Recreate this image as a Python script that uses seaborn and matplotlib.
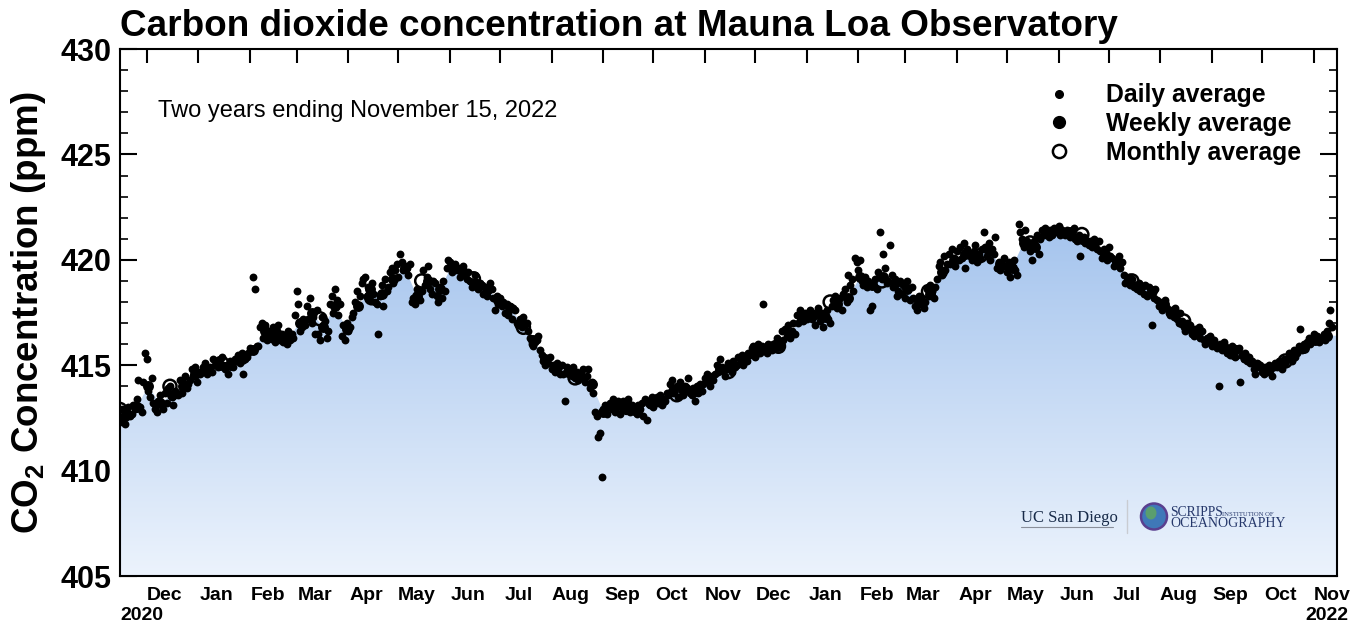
import numpy as np
import pandas as pd
import matplotlib
matplotlib.use("Agg")
import matplotlib.pyplot as plt
import matplotlib.dates as mdates
from matplotlib.ticker import MultipleLocator, NullFormatter
from matplotlib.lines import Line2D
from matplotlib.patches import Ellipse
import seaborn as sns

# daily averages (ppm) from Nov 15, 2020, one line per week
daily_ppm = [
    412.3, 412.9, 412.4, 412.2, 412.8, 413.0, 412.6,
    412.7, 413.1, 412.9, 413.4, 414.3, 413.0, 412.8,
    414.2, 415.6, 415.3, 413.8, 413.5, 414.4, 413.2,
    412.9, 412.8, 413.3, 413.6, 413.1, 412.9, 413.7,
    413.2, 413.9, 414.0, 413.5, 413.1, 413.8, 413.7,
    413.6, 414.3, 413.7, 414.2, 414.5, 413.9, 414.1,
    414.3, 414.8, 414.5, 414.9, 414.2, 414.7, 414.6,
    414.7, 414.9, 415.1, 414.6, 414.8, 414.9, 414.7,
    415.3, 415.0, 415.2, 414.9, 415.1, 415.4, 415.0,
    414.8, 415.0, 414.6, 415.2, 415.1, 414.9, 415.3,
    415.2, 415.5, 415.1, 415.6, 414.6, 415.3, 415.4,
    415.6, 415.8, 415.7, 419.2, 418.6, 415.9, 415.9,
    416.8, 417.0, 416.3, 416.9, 416.2, 416.5, 416.6,
    416.3, 416.8, 416.1, 416.6, 416.9, 416.2, 416.5,
    416.1, 416.4, 416.0, 416.6, 416.2, 416.5, 416.3,
    417.4, 418.5, 417.9, 416.6, 416.8, 417.2, 416.9,
    417.8, 417.2, 418.2, 417.0, 417.3, 416.5, 417.6,
    416.5, 416.2, 417.3, 416.9, 417.1, 416.3, 416.6,
    417.9, 418.3, 417.5, 418.6, 418.1, 417.4, 417.9,
    416.4, 416.9, 416.2, 417.0, 416.6, 416.8, 417.3,
    417.5, 418.0, 418.5, 417.8, 418.3, 418.9, 419.1,
    419.2, 418.3, 418.7, 418.1, 418.9, 418.4, 418.0,
    417.9, 416.5, 418.3, 418.8, 417.8, 419.1, 418.5,
    418.7, 419.4, 419.6, 418.9, 419.5, 419.8, 419.2,
    420.3, 419.9, 419.5, 419.7, 419.6, 419.3, 419.8,
    418.0, 418.2, 417.9, 418.6, 418.4, 418.1, 418.5,
    419.5, 418.8, 419.2, 419.7, 418.6, 418.4, 419.0,
    418.9, 418.3, 418.0, 418.7, 418.2, 419.0, 418.5,
    419.6, 420.0, 419.9, 419.4, 419.7, 419.8, 419.5,
    419.6, 419.2, 419.5, 419.7, 419.3, 419.1, 419.4,
    419.0, 418.7, 418.9, 419.3, 418.8, 418.6, 418.9,
    418.8, 418.4, 418.7, 418.3, 418.5, 418.9, 418.6,
    418.2, 417.6, 418.3, 417.9, 418.2, 417.8, 418.0,
    417.5, 417.9, 417.4, 417.8, 417.2, 417.7, 417.6,
    417.0, 416.9, 417.2, 416.8, 417.3, 416.9, 417.0,
    416.6, 416.3, 416.0, 415.9, 416.1, 416.2, 416.4,
    415.7, 415.5, 415.2, 415.0, 415.3, 415.1, 415.4,
    414.8, 415.0, 414.7, 415.1, 414.9, 414.6, 415.0,
    414.6, 413.3, 414.9, 414.8, 414.7, 414.5, 414.9,
    414.4, 414.7, 414.3, 414.6, 414.5, 414.8, 414.2,
    414.5, 414.8, 413.9, 414.2, 413.7, 412.8, 412.6,
    411.6, 411.8, 409.7, 412.9, 413.1, 412.7, 413.0,
    413.2, 412.9, 413.4, 412.8, 413.1, 413.3, 412.7,
    413.0, 413.3, 412.9, 413.2, 413.4, 412.8, 413.1,
    413.0, 412.8, 412.7, 413.1, 412.9, 413.2, 412.6,
    413.4, 412.4, 413.3, 413.1, 413.5, 413.0, 413.2,
    413.5, 413.2, 413.6, 413.1, 413.4, 413.3, 413.7,
    413.6, 414.1, 414.3, 413.7, 413.9, 414.0, 413.5,
    414.2, 413.8, 413.6, 414.0, 413.9, 414.4, 413.7,
    413.6, 413.9, 413.3, 414.0, 413.7, 414.1, 413.8,
    414.1, 414.4, 414.6, 414.2, 414.0, 414.5, 414.3,
    414.6, 415.0, 414.7, 415.3, 414.9, 414.8, 414.5,
    414.8, 415.1, 415.0, 414.7, 415.2, 414.9, 415.0,
    415.4, 415.1, 415.5, 415.0, 415.3, 415.2, 415.6,
    415.5, 415.8, 415.9, 415.4, 415.7, 416.0, 415.6,
    415.9, 417.9, 415.7, 415.6, 416.0, 415.8, 415.7,
    416.0, 415.8, 416.3, 416.1, 415.9, 416.6, 416.2,
    416.7, 416.4, 416.9, 416.3, 416.6, 417.0, 416.5,
    417.4, 417.0, 417.6, 417.3, 417.1, 417.5, 417.2,
    417.3, 417.6, 417.2, 417.5, 416.9, 417.4, 417.7,
    417.1, 417.5, 416.8, 417.4, 417.6, 417.2, 417.0,
    417.8, 418.1, 418.3, 417.7, 418.0, 418.2, 417.6,
    418.4, 418.6, 418.0, 419.3, 418.8, 419.1, 418.5,
    420.1, 419.9, 419.5, 420.0, 419.0, 418.8, 419.2,
    418.7, 419.0, 417.6, 417.8, 418.9, 419.1, 418.6,
    419.4, 421.3, 419.1, 420.3, 419.6, 418.9, 419.0,
    420.7, 419.3, 418.7, 419.1, 418.3, 418.5, 419.0,
    418.4, 418.8, 418.2, 419.0, 418.6, 418.1, 418.7,
    418.2, 417.8, 417.6, 418.3, 417.9, 418.1, 417.7,
    418.0, 418.6, 418.3, 418.8, 418.5, 418.2, 418.7,
    419.1, 419.7, 419.9, 419.3, 420.2, 419.5, 419.8,
    420.3, 419.8, 420.5, 420.1, 419.7, 420.4, 420.0,
    420.6, 420.1, 420.8, 419.6, 420.5, 420.3, 420.2,
    420.0, 420.4, 420.7, 419.9, 420.3, 420.1, 420.5,
    421.3, 420.6, 420.2, 420.8, 420.0, 420.5, 420.3,
    421.1, 419.6, 419.9, 419.5, 419.8, 420.1, 419.7,
    419.4, 419.9, 419.2, 419.7, 420.0, 419.5, 419.3,
    421.7, 421.3, 421.0, 420.6, 421.4, 420.9, 420.7,
    420.4, 420.0, 420.9, 420.7, 421.2, 420.3, 421.0,
    421.4, 421.2, 421.5, 421.3, 421.1, 421.4, 421.2,
    421.5, 421.3, 421.4, 421.6, 421.2, 421.4, 421.3,
    421.2, 421.4, 421.3, 421.1, 421.2, 421.5, 421.0,
    420.9, 421.2, 420.2, 421.0, 421.1, 420.8, 420.9,
    420.7, 420.9, 420.6, 421.0, 420.8, 420.5, 420.9,
    420.4, 420.1, 420.5, 420.3, 420.0, 420.6, 420.2,
    420.1, 419.7, 420.0, 419.8, 420.2, 419.6, 419.9,
    419.3, 418.9, 419.0, 419.2, 418.8, 419.1, 418.7,
    418.8, 418.6, 418.9, 418.5, 418.7, 418.4, 418.8,
    418.3, 418.7, 418.4, 416.9, 418.2, 418.6, 418.1,
    417.8, 418.0, 417.6, 417.9, 418.1, 417.7, 417.5,
    417.4, 417.6, 417.3, 417.7, 417.2, 417.0, 417.5,
    417.1, 416.8, 416.6, 417.0, 416.7, 416.9, 416.5,
    416.4, 416.7, 416.5, 416.8, 416.3, 416.6, 416.2,
    416.0, 416.3, 416.1, 416.4, 415.9, 416.2, 416.0,
    415.8, 414.0, 416.0, 415.7, 416.1, 415.9, 415.6,
    415.8, 415.5, 415.9, 415.6, 415.4, 415.7, 415.8,
    414.2, 415.5, 415.3, 415.6, 415.2, 415.4, 415.1,
    415.2, 414.8, 414.6, 415.1, 414.9, 415.0, 414.7,
    414.6, 414.9, 414.7, 415.0, 414.8, 414.5, 414.9,
    415.1, 414.9, 415.2, 415.0, 414.8, 415.3, 415.1,
    415.3, 415.6, 415.5, 415.2, 415.7, 415.4, 415.6,
    415.9, 416.7, 415.7, 416.0, 415.8, 416.1, 416.3,
    416.0, 416.3, 416.5, 416.2, 416.4, 416.1, 416.3,
    416.3, 416.5, 416.2, 416.6, 417.0, 417.6, 416.8,
]

# weekly averages (ppm), weeks centred from Nov 18, 2020
weekly_ppm = [
    412.6, 413.0, 414.0, 413.2, 413.6, 414.0, 414.6, 414.8, 415.1, 415.0,
    415.3, 415.7, 416.6, 416.5, 416.3, 417.0, 417.5, 416.8, 417.8, 416.7,
    417.8, 418.6, 418.4, 419.1, 419.6, 418.3, 419.0, 418.6, 419.7, 419.4,
    418.9, 418.6, 418.1, 417.7, 417.0, 416.2, 415.3, 414.9, 414.7, 414.5,
    414.1, 412.8, 413.0, 413.1, 412.9, 413.2, 413.3, 413.8, 413.9, 413.8,
    414.3, 414.8, 414.9, 415.2, 415.6, 415.8, 415.9, 416.5, 417.2, 417.4,
    417.3, 417.9, 418.2, 419.2, 418.8, 419.2, 418.9, 418.6, 418.0, 418.4,
    419.4, 420.0, 420.3, 420.2, 420.4, 419.8, 419.6, 420.8, 420.6, 421.3,
    421.4, 421.3, 421.0, 420.8, 420.3, 419.9, 419.1, 418.7, 418.5, 417.9,
    417.5, 416.9, 416.6, 416.2, 415.9, 415.7, 415.4, 415.0, 414.8, 415.0,
    415.4, 415.8, 416.2, 416.4,
]

# monthly averages (ppm), Nov 2020 - Oct 2022, plotted mid-month
monthly_ppm = [
    412.9, 414.0, 415.1, 416.4, 417.2, 418.2, 419.0, 419.1, 416.8, 414.4,
    413.0, 413.6, 414.7, 415.9, 418.0, 419.0, 418.5, 420.2, 420.8, 421.2,
    419.0, 417.1, 415.6, 415.2,
]

legend_labels = ["Daily average", "Weekly average", "Monthly average"]

start = pd.Timestamp("2020-11-15")
end = pd.Timestamp("2022-11-15")
daily_dates = pd.date_range(start, periods=len(daily_ppm), freq="D")
weekly_dates = pd.date_range("2020-11-18", periods=len(weekly_ppm), freq="7D")
monthly_dates = pd.date_range("2020-11-01", periods=len(monthly_ppm), freq="MS") + pd.Timedelta(days=14)

sns.set_theme(style="ticks")
plt.rcParams["font.family"] = ["Liberation Sans", "DejaVu Sans"]
plt.rcParams["font.weight"] = "bold"
plt.rcParams["mathtext.fontset"] = "custom"
plt.rcParams["mathtext.rm"] = "Liberation Sans"
plt.rcParams["mathtext.bf"] = "Liberation Sans:bold"
for key in ["text.color", "axes.labelcolor", "xtick.color", "ytick.color", "axes.edgecolor"]:
    plt.rcParams[key] = "black"

fig = plt.figure(figsize=(13.54, 6.23), dpi=100)
ax = fig.add_axes([0.0886, 0.0754, 0.8988, 0.8459])

# gradient fill under the weekly curve
fill_x = [start] + list(weekly_dates) + [end]
fill_y = [weekly_ppm[0]] + weekly_ppm + [weekly_ppm[-1]]
poly = ax.fill_between(fill_x, fill_y, 405, color="none", lw=0)
top_col = np.array([0.640, 0.765, 0.930])
bot_col = np.array([0.925, 0.953, 0.990])
t = np.linspace(0, 1, 256)[:, None]
grad = (bot_col + (top_col - bot_col) * t)[:, None, :]
im = ax.imshow(grad, extent=[mdates.date2num(start), mdates.date2num(end), 405, 422],
               origin="lower", aspect="auto", zorder=1, interpolation="bilinear")
im.set_clip_path(poly.get_paths()[0], transform=ax.transData)

sns.scatterplot(x=daily_dates, y=daily_ppm, ax=ax, color="black", s=32, linewidth=0, zorder=3)
sns.scatterplot(x=weekly_dates, y=weekly_ppm, ax=ax, color="black", s=62, linewidth=0, zorder=4)
ax.scatter(monthly_dates, monthly_ppm, s=88, facecolors="none", edgecolors="black",
           linewidths=1.8, zorder=5)

ax.set_xlim(start, end)
ax.set_ylim(405, 430)
ax.set_aspect("auto")
ax.set_xlabel("")
ax.set_ylabel(r"CO$_\mathbf{2}$ Concentration (ppm)", fontsize=26.5, fontweight="bold")
ax.yaxis.set_label_coords(-0.059, 0.5)

ax.yaxis.set_major_locator(MultipleLocator(5))
ax.yaxis.set_minor_locator(MultipleLocator(1))
ax.tick_params(axis="y", which="major", direction="in", length=12, width=1.5,
               left=True, right=True, labelsize=22, pad=6)
ax.tick_params(axis="y", which="minor", direction="in", length=6, width=1.2,
               left=True, right=True)
ax.xaxis.set_major_locator(mdates.MonthLocator())
ax.xaxis.set_major_formatter(NullFormatter())
ax.xaxis.set_minor_locator(mdates.MonthLocator(bymonthday=12))
ax.xaxis.set_minor_formatter(mdates.DateFormatter("%b"))
ax.tick_params(axis="x", which="major", direction="in", length=10, width=1.5,
               top=True, bottom=True)
ax.tick_params(axis="x", which="minor", length=0, labelsize=14, pad=8)
for sp in ax.spines.values():
    sp.set_linewidth(1.5)
    sp.set_color("black")

ax.text(0.0, -0.058, "2020", transform=ax.transAxes, ha="left", va="top", fontsize=14)
ax.text(1.009, -0.058, "2022", transform=ax.transAxes, ha="right", va="top", fontsize=14)
ax.text(0.031, 0.882, "Two years ending November 15, 2022", transform=ax.transAxes,
        ha="left", va="center", fontsize=17, fontweight="normal")

handles = [
    Line2D([], [], ls="none", marker="o", color="black", markersize=5.5),
    Line2D([], [], ls="none", marker="o", color="black", markersize=8.5),
    Line2D([], [], ls="none", marker="o", mfc="none", mec="black", mew=1.8, markersize=9.5),
]
ax.legend(handles, legend_labels, loc="upper right", bbox_to_anchor=(0.979, 0.954),
          frameon=False, fontsize=17.8, handlelength=1.0, handletextpad=1.42,
          labelspacing=0.2, borderaxespad=0)

fig.text(0.0886, 0.985, "Carbon dioxide concentration at Mauna Loa Observatory",
         ha="left", va="top", fontsize=26.6)

# logo block
serif = ["Liberation Serif", "DejaVu Serif"]
fig.text(1021 / 1354, 1 - 518 / 623, "UC San Diego", family=serif, fontsize=12,
         fontweight="normal", color="#182b49", ha="left", va="center")
fig.add_artist(Line2D([1021 / 1354, 1113 / 1354], [1 - 527 / 623, 1 - 527 / 623],
                      color="#8a8f9a", lw=0.8))
fig.add_artist(Line2D([1127 / 1354, 1127 / 1354], [1 - 500 / 623, 1 - 533 / 623],
                      color="#c9ccd2", lw=1.0))
fig.add_artist(Ellipse((1154 / 1354, 1 - 516.5 / 623), 26 / 1354, 26 / 623,
                       transform=fig.transFigure, fc="#3f78b8", ec="#5a3f8f", lw=1.8))
fig.add_artist(Ellipse((1151 / 1354, 1 - 513 / 623), 11 / 1354, 13 / 623,
                       transform=fig.transFigure, fc="#5a9e6e", ec="none"))
fig.text(1170 / 1354, 1 - 513 / 623, "SCRIPPS", family=serif, fontsize=9.8,
         fontweight="normal", color="#26386b", ha="left", va="center")
fig.text(1222 / 1354, 1 - 514 / 623, "INSTITUTION OF", family=serif, fontsize=4.8,
         fontweight="normal", color="#26386b", ha="left", va="center")
fig.text(1170 / 1354, 1 - 523.5 / 623, "OCEANOGRAPHY", family=serif, fontsize=10,
         fontweight="normal", color="#26386b", ha="left", va="center")

fig.savefig("out.png", dpi=100)
plt.close(fig)
